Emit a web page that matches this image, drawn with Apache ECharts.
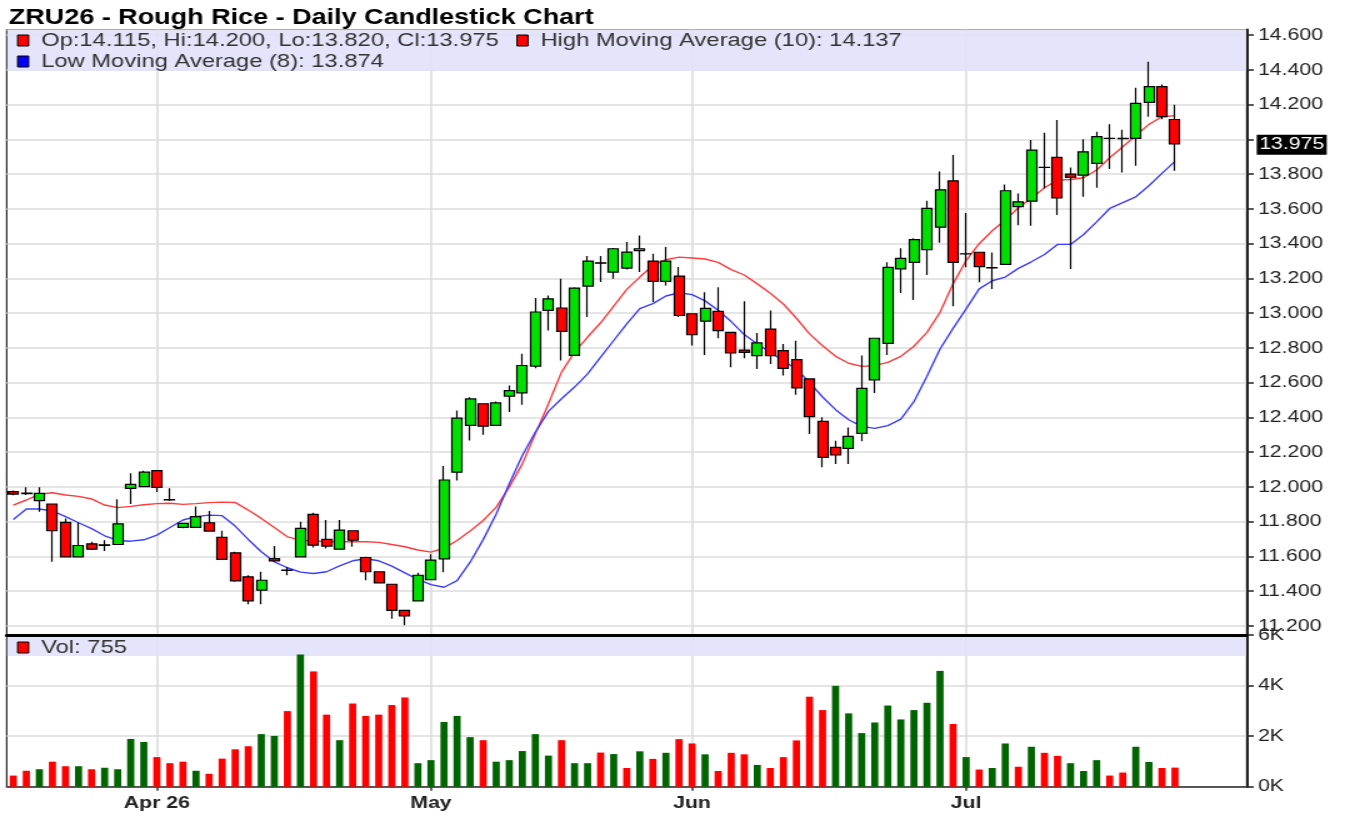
<!DOCTYPE html>
<html>
<head>
<meta charset="utf-8">
<title>ZRU26 - Rough Rice - Daily Candlestick Chart</title>
<script src="https://cdn.jsdelivr.net/npm/echarts@6.0.0/dist/echarts.min.js"></script>
<style>
  html, body { margin: 0; padding: 0; background: #fff; overflow: hidden; }
  #wrap { width: 1366px; height: 821px; overflow: hidden; }
  /* the reference picture is stretched sideways, so draw narrow and stretch */
  #main { width: 1093px; height: 821px; transform: scaleX(1.25); transform-origin: 0 0; }
</style>
</head>
<body>
<div id="wrap"><div id="main"></div></div>
<script>
// ---- data ----
var tickLabels = ['Apr 26', 'May', 'Jun', 'Jul'];
var holidays = ['2026-04-03', '2026-05-25', '2026-06-19', '2026-07-03'];

var opens = [11.973, 11.965, 11.921, 11.902, 11.796, 11.598, 11.673, 11.663, 11.669, 11.992,
  12.002, 12.094, 11.927, 11.767, 11.767, 11.794, 11.710, 11.621, 11.483, 11.406,
  11.588, 11.522, 11.598, 11.842, 11.698, 11.642, 11.748, 11.594, 11.512, 11.440,
  11.290, 11.344, 11.467, 11.586, 12.085, 12.354, 12.479, 12.354, 12.523, 12.542,
  12.696, 13.016, 13.030, 12.757, 13.156, 13.290, 13.237, 13.260, 13.360, 13.300,
  13.183, 13.214, 12.997, 12.954, 13.011, 12.890, 12.788, 12.756, 12.909, 12.785,
  12.733, 12.622, 12.378, 12.228, 12.222, 12.309, 12.616, 12.827, 13.255, 13.293,
  13.366, 13.495, 13.762, 13.341, 13.351, 13.261, 13.281, 13.613, 13.645, 13.840,
  13.897, 13.801, 13.795, 13.862, 14.006, 14.007, 14.006, 14.213, 14.304, 14.115];
var highs = [11.980, 11.998, 11.998, 11.905, 11.819, 11.796, 11.685, 11.694, 11.929, 12.079,
  12.094, 12.098, 11.992, 11.794, 11.887, 11.862, 11.748, 11.627, 11.492, 11.512,
  11.660, 11.540, 11.800, 11.852, 11.810, 11.810, 11.748, 11.598, 11.512, 11.440,
  11.290, 11.506, 11.613, 12.120, 12.440, 12.517, 12.479, 12.492, 12.584, 12.767,
  13.087, 13.102, 13.198, 13.150, 13.329, 13.329, 13.375, 13.410, 13.448, 13.342,
  13.381, 13.266, 13.000, 13.121, 13.149, 12.890, 13.069, 12.886, 13.015, 12.823,
  12.842, 12.622, 12.401, 12.266, 12.343, 12.756, 12.856, 13.293, 13.374, 13.431,
  13.648, 13.815, 13.911, 13.577, 13.351, 13.350, 13.741, 13.689, 13.997, 14.039,
  14.112, 13.839, 14.002, 14.045, 14.087, 14.056, 14.298, 14.448, 14.317, 14.200];
var lows = [11.952, 11.954, 11.858, 11.569, 11.598, 11.598, 11.637, 11.631, 11.669, 11.902,
  12.002, 11.971, 11.919, 11.763, 11.767, 11.746, 11.579, 11.454, 11.325, 11.325,
  11.569, 11.492, 11.598, 11.652, 11.646, 11.642, 11.656, 11.463, 11.448, 11.242,
  11.204, 11.344, 11.467, 11.509, 12.037, 12.268, 12.300, 12.354, 12.431, 12.473,
  12.684, 12.901, 12.728, 12.757, 12.978, 13.179, 13.198, 13.252, 13.237, 13.064,
  13.160, 12.978, 12.814, 12.760, 12.856, 12.689, 12.741, 12.679, 12.708, 12.641,
  12.531, 12.305, 12.113, 12.132, 12.132, 12.263, 12.541, 12.760, 13.117, 13.076,
  13.220, 13.405, 13.040, 13.264, 13.178, 13.140, 13.281, 13.507, 13.503, 13.718,
  13.565, 13.254, 13.670, 13.722, 13.830, 13.810, 13.849, 14.131, 14.117, 13.820];
var closes = [11.959, 11.962, 11.963, 11.748, 11.598, 11.663, 11.642, 11.667, 11.788, 12.015,
  12.085, 11.998, 11.925, 11.790, 11.829, 11.746, 11.583, 11.460, 11.344, 11.463,
  11.575, 11.520, 11.762, 11.665, 11.660, 11.752, 11.694, 11.512, 11.448, 11.290,
  11.258, 11.492, 11.579, 12.040, 12.396, 12.507, 12.350, 12.484, 12.554, 12.699,
  13.007, 13.083, 12.895, 13.145, 13.300, 13.288, 13.371, 13.352, 13.371, 13.183,
  13.300, 12.987, 12.876, 13.028, 12.900, 12.771, 12.775, 12.829, 12.756, 12.683,
  12.570, 12.405, 12.170, 12.184, 12.291, 12.568, 12.856, 13.264, 13.316, 13.424,
  13.604, 13.710, 13.293, 13.342, 13.268, 13.262, 13.705, 13.641, 13.939, 13.839,
  13.664, 13.782, 13.929, 14.016, 14.007, 14.005, 14.208, 14.304, 14.131, 13.975];
var highMA10 = [11.896, 11.925, 11.958, 11.967, 11.954, 11.946, 11.931, 11.896, 11.881, 11.888,
  11.898, 11.904, 11.906, 11.900, 11.904, 11.910, 11.913, 11.911, 11.867, 11.819,
  11.767, 11.713, 11.694, 11.690, 11.685, 11.685, 11.685, 11.685, 11.681, 11.669,
  11.656, 11.637, 11.625, 11.648, 11.692, 11.747, 11.807, 11.884, 11.999, 12.133,
  12.306, 12.479, 12.661, 12.776, 12.863, 12.945, 13.041, 13.137, 13.208, 13.275,
  13.308, 13.323, 13.318, 13.312, 13.293, 13.251, 13.220, 13.169, 13.115, 13.053,
  12.971, 12.881, 12.813, 12.752, 12.712, 12.694, 12.698, 12.717, 12.752, 12.810,
  12.890, 13.005, 13.169, 13.303, 13.400, 13.475, 13.536, 13.607, 13.661, 13.722,
  13.766, 13.770, 13.780, 13.824, 13.895, 13.958, 14.021, 14.087, 14.131, 14.137];
var lowMA8 = [11.813, 11.873, 11.873, 11.862, 11.829, 11.794, 11.760, 11.719, 11.692, 11.688,
  11.696, 11.723, 11.767, 11.810, 11.829, 11.838, 11.835, 11.775, 11.698, 11.627,
  11.569, 11.535, 11.510, 11.502, 11.512, 11.546, 11.575, 11.587, 11.575, 11.544,
  11.506, 11.468, 11.438, 11.423, 11.461, 11.567, 11.697, 11.845, 12.018, 12.181,
  12.316, 12.435, 12.508, 12.575, 12.651, 12.747, 12.843, 12.939, 13.026, 13.055,
  13.099, 13.118, 13.107, 13.071, 13.017, 12.952, 12.877, 12.823, 12.775, 12.725,
  12.679, 12.602, 12.518, 12.445, 12.387, 12.349, 12.337, 12.353, 12.391, 12.491,
  12.637, 12.794, 12.913, 13.025, 13.140, 13.187, 13.208, 13.258, 13.296, 13.338,
  13.396, 13.396, 13.453, 13.526, 13.603, 13.636, 13.670, 13.734, 13.805, 13.874];
var volumes = [440, 630, 690, 990, 810, 810, 690, 750, 690, 1890,
  1770, 1170, 930, 990, 630, 510, 1110, 1480, 1600, 2080,
  2010, 2990, 5230, 4560, 2850, 1840, 3290, 2800, 2850, 3230,
  3530, 930, 1050, 2560, 2800, 1960, 1840, 990, 1050, 1410,
  2080, 1230, 1840, 930, 930, 1350, 1290, 740, 1400, 1100,
  1340, 1880, 1710, 1280, 620, 1340, 1280, 860, 740, 1170,
  1830, 3560, 3030, 3990, 2900, 2120, 2540, 3210, 2660, 3030,
  3320, 4580, 2480, 1170, 680, 740, 1710, 790, 1580, 1340,
  1220, 930, 620, 1050, 440, 560, 1580, 980, 740, 755];
// 1 = close above previous close (green volume), 0 = below (red)
var volUp = [0, 0, 1, 0, 0, 1, 0, 1, 1, 1,
  1, 0, 0, 0, 1, 0, 0, 0, 0, 1,
  1, 0, 1, 0, 0, 1, 0, 0, 0, 0,
  0, 1, 1, 1, 1, 1, 0, 1, 1, 1,
  1, 1, 0, 1, 1, 0, 1, 0, 1, 0,
  1, 0, 0, 1, 0, 0, 0, 1, 0, 0,
  0, 0, 0, 1, 1, 1, 1, 1, 1, 1,
  1, 1, 0, 1, 0, 1, 1, 0, 1, 0,
  0, 1, 1, 1, 0, 0, 1, 1, 0, 0];

// trading days starting 2026-03-17
var dates = [];
var d = new Date(Date.UTC(2026, 2, 17));
while (dates.length < opens.length) {
  var s = d.toISOString().slice(0, 10);
  var wd = d.getUTCDay();
  if (wd !== 0 && wd !== 6 && holidays.indexOf(s) < 0) dates.push(s);
  d.setUTCDate(d.getUTCDate() + 1);
}
var categories = dates.concat(['', '', '', '', '']); // empty room on the right

var monthStart = {};
var m = 0;
for (var i = 1; i < dates.length; i++) {
  if (dates[i].slice(5, 7) !== dates[i - 1].slice(5, 7)) monthStart[i] = tickLabels[m++];
}
function isMonth(idx) { return monthStart[idx] !== undefined; }

var candleData = [];
for (var i = 0; i < opens.length; i++) candleData.push([opens[i], closes[i], lows[i], highs[i]]);

var volData = volumes.map(function (v, i) {
  return { value: v, itemStyle: { color: volUp[i] ? '#006400' : '#ff0000' } };
});

var last = opens.length - 1;
var candleName = 'Op:' + opens[last].toFixed(3) + ', Hi:' + highs[last].toFixed(3) +
  ', Lo:' + lows[last].toFixed(3) + ', Cl:' + closes[last].toFixed(3);
var hiName = 'High Moving Average (10): ' + highMA10[last].toFixed(3);
var loName = 'Low Moving Average (8): ' + lowMA8[last].toFixed(3);
var volName = 'Vol: ' + volumes[last];

var FONT = '"Liberation Sans", Arial, sans-serif';
var gridColor = '#dcdcdc';
var legendText = { fontSize: 19, color: '#333', fontFamily: FONT, padding: [0, 0, 0, 5] };
function sq(name, color) {
  return { name: name, icon: 'rect', itemStyle: { color: color, borderColor: '#000', borderWidth: 1 } };
}

var myChart = echarts.init(document.getElementById('main'));

var option = {
  animation: false,
  backgroundColor: '#fff',
  title: {
    text: 'ZRU26 - Rough Rice - Daily Candlestick Chart',
    left: 2, top: 2,
    textStyle: { fontSize: 21.6, fontWeight: 'bold', color: '#000', fontFamily: FONT }
  },
  legend: [
    { left: 13.6, top: 31, padding: 0, itemWidth: 8.8, itemHeight: 11, itemGap: 14, selectedMode: false,
      textStyle: legendText, data: [sq(candleName, '#ff0000'), sq(hiName, '#ff0000')] },
    { left: 13.6, top: 52, padding: 0, itemWidth: 8.8, itemHeight: 11, selectedMode: false,
      textStyle: legendText, data: [sq(loName, '#0000ff')] },
    { left: 13.6, top: 638, padding: 0, itemWidth: 8.8, itemHeight: 11, selectedMode: false,
      textStyle: legendText, data: [sq(volName, '#ff0000')] }
  ],
  graphic: [
    { type: 'rect', z: 1, silent: true, shape: { x: 5.8, y: 30.4, width: 991, height: 40.6 },
      style: { fill: 'rgba(225,225,250,0.9)' } },
    { type: 'rect', z: 1, silent: true, shape: { x: 5.8, y: 637, width: 991, height: 19 },
      style: { fill: 'rgba(225,225,250,0.9)' } }
  ],
  grid: [
    { left: 5.4, right: 95.6, top: 29.5, bottom: 186, show: true, borderColor: '#222', borderWidth: 1.2,
      backgroundColor: '#fff', outerBoundsMode: 'none' },
    { left: 5.4, right: 95.6, top: 635, bottom: 34.3, show: true, borderColor: '#222', borderWidth: 1.2,
      outerBoundsMode: 'none' }
  ],
  xAxis: [
    {
      gridIndex: 0, type: 'category', data: categories, boundaryGap: true,
      axisLine: { show: true, onZero: false, lineStyle: { color: '#000', width: 3 } },
      axisTick: { show: false }, axisLabel: { show: false },
      splitLine: { show: true, interval: isMonth, alignWithLabel: true, lineStyle: { color: gridColor, width: 1.6 } }
    },
    {
      gridIndex: 1, type: 'category', data: categories, boundaryGap: true,
      axisLine: { show: true, onZero: false, lineStyle: { color: '#333', width: 1.6 } },
      axisTick: { show: true, alignWithLabel: true, interval: isMonth, length: 4, lineStyle: { color: '#333', width: 1.5 } },
      axisLabel: {
        interval: isMonth, margin: 8, fontSize: 17, fontWeight: 'bold', color: '#222', fontFamily: FONT,
        formatter: function (v, idx) { return monthStart[idx] || ''; }
      },
      splitLine: { show: true, interval: isMonth, alignWithLabel: true, lineStyle: { color: gridColor, width: 1.6 } }
    }
  ],
  yAxis: [
    {
      gridIndex: 0, type: 'value', position: 'right', scale: true,
      min: 11.148, max: 14.633, splitNumber: 17, minInterval: 0.2, maxInterval: 0.2,
      axisLine: { show: true, lineStyle: { color: '#222', width: 2 } },
      axisTick: { show: true, length: 5.6, lineStyle: { color: '#222', width: 1.5 } },
      axisLabel: {
        margin: 9, fontSize: 17, color: '#222', fontFamily: FONT, showMinLabel: false, showMaxLabel: false,
        formatter: function (v) {
          if (Math.abs(v * 5 - Math.round(v * 5)) > 1e-6) return '';
          if (Math.abs(v - closes[last]) < 0.1) return ''; // covered by the last price box
          return v.toFixed(3);
        }
      },
      splitLine: { show: true, lineStyle: { color: gridColor, width: 1.6 } }
    },
    {
      gridIndex: 1, type: 'value', position: 'right', min: 0, max: 6000, interval: 2000,
      axisLine: { show: true, lineStyle: { color: '#222', width: 2 } },
      axisTick: { show: true, length: 5.6, lineStyle: { color: '#222', width: 1.5 } },
      axisLabel: {
        margin: 9, fontSize: 17, color: '#222', fontFamily: FONT,
        formatter: function (v) { return (v / 1000) + 'K'; }
      },
      splitLine: { show: true, lineStyle: { color: gridColor, width: 1.6 } }
    }
  ],
  series: [
    {
      name: hiName, type: 'line', xAxisIndex: 0, yAxisIndex: 0, data: highMA10, z: 2,
      symbol: 'none', lineStyle: { color: '#ff3c3c', width: 1.4 }, itemStyle: { color: '#ff0000' }
    },
    {
      name: loName, type: 'line', xAxisIndex: 0, yAxisIndex: 0, data: lowMA8, z: 2,
      symbol: 'none', lineStyle: { color: '#3c3cff', width: 1.4 }, itemStyle: { color: '#0000ff' }
    },
    {
      name: candleName, type: 'candlestick', xAxisIndex: 0, yAxisIndex: 0, data: candleData, z: 3,
      barWidth: 8.5,
      itemStyle: { color: '#00e000', color0: '#ff0000', borderColor: '#000', borderColor0: '#000',
        borderColorDoji: '#000', borderWidth: 1.2 },
      markLine: {
        silent: true, symbol: 'none', animation: false,
        lineStyle: { color: 'rgba(0,0,0,0)', width: 0.01, type: 'solid' },
        label: {
          show: true, position: 'end', distance: 8, fontSize: 17, fontFamily: FONT,
          color: '#fff', backgroundColor: '#000', padding: [2, 2, 1, 2], opacity: 1,
          formatter: closes[last].toFixed(3)
        },
        data: [{ yAxis: closes[last] }]
      }
    },
    {
      name: volName, type: 'bar', xAxisIndex: 1, yAxisIndex: 1, data: volData, barWidth: 5.7,
      itemStyle: { color: '#ff0000' }
    }
  ]
};

myChart.setOption(option);
</script>
</body>
</html>
